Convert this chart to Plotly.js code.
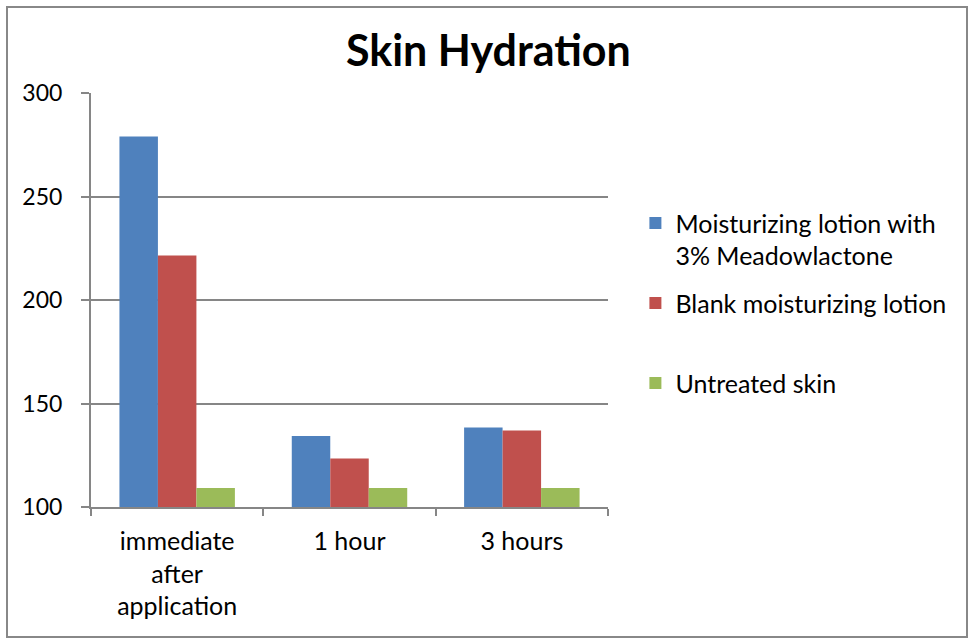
<!DOCTYPE html>
<html>
<head>
<meta charset="utf-8">
<script src="https://cdn.plot.ly/plotly-3.0.1.min.js"></script>
<style>
html,body{margin:0;padding:0;background:#fff;}
#chart{width:969px;height:639px;}
</style>
</head>
<body>
<div id="chart"></div>
<script>
const categories = ["immediate<br>after<br>application", "1 hour", "3 hours"];
const seriesNames = ["Moisturizing lotion with<br>3% Meadowlactone", "Blank moisturizing lotion<br> ", "Untreated skin"];
const lotionMeadow = [279, 134.3, 138.4];
const lotionBlank = [221.5, 123.4, 136.9];
const untreated = [109.2, 109.2, 109.2];
const seriesColors = ["#4F81BD", "#C0504D", "#9BBB59"];

const seriesValues = [lotionMeadow, lotionBlank, untreated];
const traces = seriesValues.map((vals, i) => ({
  type: "bar",
  x: categories,
  y: vals,
  name: seriesNames[i],
  legendgroup: "g" + i,
  marker: {color: seriesColors[i], line: {width: 0}}
}));

const font = "Lato, 'Open Sans', sans-serif";
const layout = {
  width: 969, height: 639,
  paper_bgcolor: "#ffffff", plot_bgcolor: "#ffffff",
  margin: {l: 91, r: 361, t: 93, b: 132},
  barmode: "group", bargap: 0.33, bargroupgap: 0,
  title: {text: "<b>Skin Hydration</b>", font: {family: font, size: 43, color: "#000"}, x: 0.504, xanchor: "center", y: 0.921, yanchor: "middle"},
  font: {family: font, size: 25, color: "#000"},
  xaxis: {
    type: "category", showline: true, linecolor: "#868686", linewidth: 2,
    ticks: "outside", tickson: "boundaries", ticklen: 7, tickcolor: "#868686", tickwidth: 2,
    tickfont: {family: font, size: 25, color: "#000"}, showgrid: false, zeroline: false,
    ticklabelstandoff: 11
  },
  yaxis: {
    range: [100, 300], dtick: 50, tick0: 100, showline: true, linecolor: "#868686", linewidth: 2,
    ticks: "outside", ticklen: 8, tickcolor: "#868686", tickwidth: 2,
    showgrid: true, gridcolor: "#868686", gridwidth: 2, zeroline: false,
    tickfont: {family: font, size: 23, color: "#000"}, ticklabelstandoff: 14
  },
  legend: {
    x: 1.053, xanchor: "left", y: 0.741, yanchor: "top", valign: "top",
    font: {family: font, size: 25, color: "#000"}, tracegroupgap: 12,
    bgcolor: "rgba(0,0,0,0)"
  },
  shapes: [{type: "rect", xref: "paper", yref: "paper",
    x0: -84/517, x1: 876/517, y0: -130/414, y1: 500/414,
    line: {color: "#888888", width: 2}, layer: "below"}]
};

Plotly.newPlot("chart", traces, layout, {displayModeBar: false, staticPlot: true});
</script>
</body>
</html>
